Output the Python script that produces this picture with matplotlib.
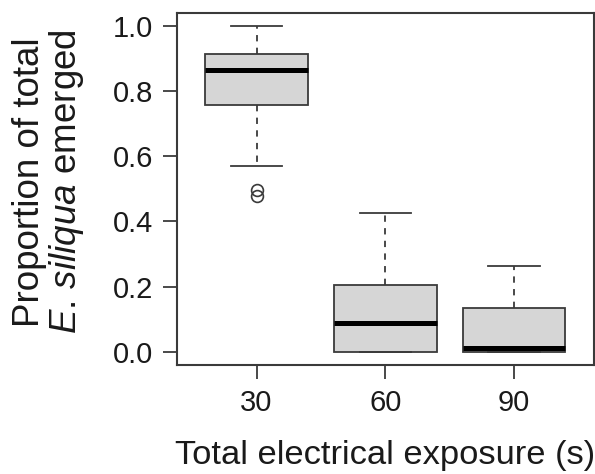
import matplotlib
matplotlib.use("Agg")
import matplotlib.pyplot as plt

plt.rcParams["font.family"] = ["Liberation Sans", "DejaVu Sans"]
plt.rcParams["mathtext.fontset"] = "custom"
plt.rcParams["mathtext.it"] = "Liberation Sans:italic"
plt.rcParams["mathtext.rm"] = "Liberation Sans"

# exposure groups and box statistics
exposure = ["30", "60", "90"]
whisker_low = [0.569, 0.0, 0.0]
q1 = [0.757, 0.0, 0.0]
median = [0.865, 0.090, 0.013]
q3 = [0.915, 0.206, 0.135]
whisker_high = [1.0, 0.427, 0.262]
outliers = [[0.496, 0.478], [], []]

stats = []
for i in range(len(exposure)):
    stats.append({
        "whislo": whisker_low[i], "q1": q1[i], "med": median[i],
        "q3": q3[i], "whishi": whisker_high[i], "fliers": outliers[i],
        "label": exposure[i],
    })

edge = "#3a3a3a"
fig = plt.figure(figsize=[5.95, 4.74], dpi=100)
ax = fig.add_axes([0.297, 0.230, 0.701, 0.743])

ax.bxp(
    stats,
    positions=[1, 2, 3],
    widths=0.8,
    patch_artist=True,
    boxprops={"facecolor": "#d6d6d6", "edgecolor": edge, "linewidth": 1.3},
    medianprops={"color": "black", "linewidth": 3.6, "solid_capstyle": "butt"},
    whiskerprops={"color": edge, "linewidth": 1.3, "linestyle": (0, (3.5, 3.5))},
    capprops={"color": edge, "linewidth": 1.3},
    capwidths=0.4,
    flierprops={"marker": "o", "markerfacecolor": "none", "markeredgecolor": edge,
                "markersize": 8.5, "markeredgewidth": 1.2},
)

ax.set_xlim(0.38, 3.62)
ax.set_ylim(-0.04, 1.04)
ax.set_yticks([0.0, 0.2, 0.4, 0.6, 0.8, 1.0])
ax.set_yticklabels(["0.0", "0.2", "0.4", "0.6", "0.8", "1.0"])
ax.tick_params(axis="both", labelsize=21, length=10, width=1.3, color=edge,
               labelcolor="#1a1a1a")
ax.tick_params(axis="y", pad=7)
ax.tick_params(axis="x", pad=7)
for s in ax.spines.values():
    s.set_color(edge)
    s.set_linewidth(1.5)

ax.set_xlabel("Total electrical exposure (s)", fontsize=24.8, color="#1a1a1a", labelpad=17)
ax.set_ylabel("Proportion of total\n" + r"$\mathit{E.\,siliqua}$ emerged",
              fontsize=26.5, color="#1a1a1a", linespacing=1.0)
# right edge of the two-line label sits about 80 px from the figure's left edge
ax.yaxis.set_label_coords(-0.218, 0.52)

fig.savefig("out.png", dpi=100)
